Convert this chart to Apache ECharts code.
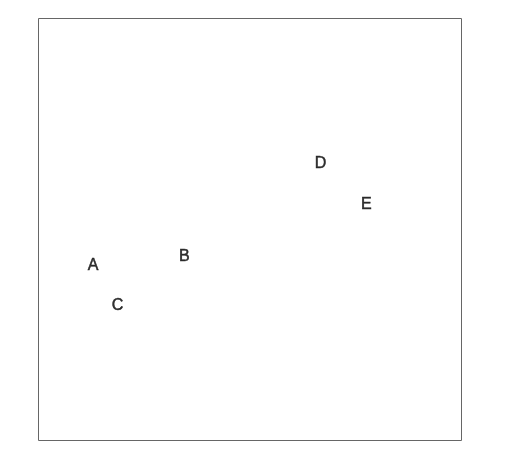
<!DOCTYPE html>
<html>
<head>
<meta charset="utf-8">
<script src="https://cdn.jsdelivr.net/npm/echarts@6/dist/echarts.min.js"></script>
<style>html,body{margin:0;padding:0;background:#fff;}#c{width:511px;height:463px;}</style>
</head>
<body>
<div id="c"></div>
<script>
const labels = ['A', 'B', 'C', 'D', 'E'];
const xValues = [12.9, 34.5, 18.7, 66.7, 77.5];
const yValues = [41.4, 43.5, 32.0, 65.6, 56.0];

const chart = echarts.init(document.getElementById('c'), null, {renderer: 'canvas'});
chart.setOption({
  animation: false,
  grid: {left: 38.5, top: 18.5, width: 423, height: 422, show: true, borderColor: '#666', borderWidth: 1, backgroundColor: 'transparent'},
  xAxis: {type: 'value', min: 0, max: 100, show: false},
  yAxis: {type: 'value', min: 0, max: 100, show: false},
  series: [{
    type: 'scatter',
    symbolSize: 0,
    data: labels.map((n, i) => ({name: n, value: [xValues[i], yValues[i]]})),
    label: {show: true, position: 'inside', formatter: p => p.name, color: '#000', textBorderColor: '#000', textBorderWidth: 0.5, fontSize: 16, fontFamily: 'Liberation Sans, Arial, sans-serif'}
  }]
});
</script>
</body>
</html>
